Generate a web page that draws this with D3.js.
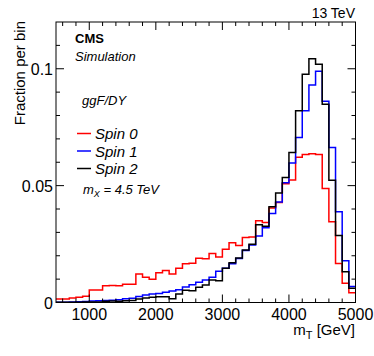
<!DOCTYPE html>
<html>
<head>
<meta charset="utf-8">
<script src="https://cdn.jsdelivr.net/npm/d3@7"></script>
<style>
  body { margin: 0; background: #fff; }
  svg { display: block; font-family: "Liberation Sans", Arial, sans-serif; }
</style>
</head>
<body>
<div class="container"></div>
<script>
// bin lower edges in GeV (bin width 100)
const binEdges = d3.range(500, 5000, 100);
const binWidth = 100;

const spin0 = [
  0.0015, 0.0015, 0.0019, 0.0022, 0.0027,
  0.0053, 0.0053, 0.0072, 0.0073, 0.0072,
  0.0078, 0.0078, 0.0122, 0.0108, 0.0099,
  0.0127, 0.0137, 0.0122, 0.0146, 0.0166,
  0.0168, 0.0189, 0.0187, 0.0210, 0.0195,
  0.0228, 0.0256, 0.0244, 0.0278, 0.0280,
  0.0350, 0.0342, 0.0404, 0.0428, 0.0508,
  0.0524, 0.0621, 0.0633, 0.0636, 0.0633,
  0.0488, 0.0345, 0.0167, 0.0082, 0.0042
];

const spin1 = [
  0.0001, 0.0001, 0.0002, 0.0003, 0.0004,
  0.0006, 0.0007, 0.0009, 0.0010, 0.0012,
  0.0016, 0.0018, 0.0026, 0.0032, 0.0036,
  0.0039, 0.0044, 0.0049, 0.0055, 0.0066,
  0.0076, 0.0087, 0.0096, 0.0108, 0.0134,
  0.0146, 0.0166, 0.0188, 0.0222, 0.0246,
  0.0284, 0.0320, 0.0381, 0.0430, 0.0512,
  0.0597, 0.0706, 0.0820, 0.0930, 0.0989,
  0.0861, 0.0663, 0.0388, 0.0179, 0.0068
];

const spin2 = [
  0.0001, 0.0001, 0.0001, 0.0001, 0.0002,
  0.0002, 0.0002, 0.0005, 0.0006, 0.0005,
  0.0008, 0.0009, 0.0015, 0.0019, 0.0022,
  0.0025, 0.0025, 0.0016, 0.0036, 0.0052,
  0.0050, 0.0065, 0.0075, 0.0096, 0.0093,
  0.0146, 0.0170, 0.0190, 0.0225, 0.0249,
  0.0333, 0.0326, 0.0410, 0.0468, 0.0535,
  0.0642, 0.0820, 0.0977, 0.1043, 0.1019,
  0.0848, 0.0523, 0.0287, 0.0132, 0.0061
];

const seriesNames = ["Spin 0", "Spin 1", "Spin 2"];
const seriesColors = ["#ff0000", "#0000ff", "#000000"];
const xTicks = [1000, 2000, 3000, 4000, 5000];
const yTicks = [0, 0.05, 0.1];

const margin = {top: 22, right: 18.5, bottom: 53.5, left: 56},
  width = 374 - margin.left - margin.right,
  height = 356 - margin.top - margin.bottom;

const svg = d3.select(".container")
  .append("svg")
  .attr("width", 374)
  .attr("height", 356);

const group = svg.append("g")
  .attr("transform", `translate(${margin.left},${margin.top})`);

const x_scale = d3.scaleLinear().domain([500, 5000]).range([0, width]);
const y_scale = d3.scaleLinear().domain([0, 0.12]).range([height, 0]);

// histograms (step outlines)
const line = d3.line()
  .curve(d3.curveStepAfter)
  .x(d => x_scale(d[0]))
  .y(d => y_scale(d[1]));

[spin0, spin1, spin2].forEach((vals, i) => {
  const pts = binEdges.map((e, j) => [e, vals[j]]);
  pts.push([binEdges[binEdges.length - 1] + binWidth, vals[vals.length - 1]]);
  group.append("path")
    .datum(pts)
    .attr("fill", "none")
    .attr("stroke", seriesColors[i])
    .attr("stroke-width", 1.5)
    .attr("d", line);
});

// frame
group.append("rect")
  .attr("width", width)
  .attr("height", height)
  .attr("fill", "none")
  .attr("stroke", "black")
  .attr("stroke-width", 1);

// ticks, inward on all four sides
const xMinor = d3.range(600, 5000, 200).filter(v => !xTicks.includes(v));
const xMajor = xTicks.filter(v => v < 5000);
const yMinor = d3.range(0.01, 0.12, 0.01).filter(v => Math.abs(v - 0.05) > 1e-6 && Math.abs(v - 0.1) > 1e-6);

const ticks = group.append("g").attr("stroke", "black").attr("stroke-width", 1);
xMinor.concat(xMajor).forEach(v => {
  const len = xMajor.includes(v) ? 8 : 4;
  const xp = x_scale(v);
  ticks.append("line").attr("x1", xp).attr("x2", xp).attr("y1", height).attr("y2", height - len);
  ticks.append("line").attr("x1", xp).attr("x2", xp).attr("y1", 0).attr("y2", len);
});
yMinor.concat(yTicks).forEach(v => {
  const len = yTicks.includes(v) ? 8 : 4;
  const yp = y_scale(v);
  ticks.append("line").attr("x1", 0).attr("x2", len).attr("y1", yp).attr("y2", yp);
  ticks.append("line").attr("x1", width).attr("x2", width - len).attr("y1", yp).attr("y2", yp);
});

// tick labels
group.append("g")
  .attr("font-size", 16)
  .attr("text-anchor", "middle")
  .selectAll("text")
  .data(xTicks)
  .join("text")
  .attr("x", d => x_scale(d))
  .attr("y", height + 17)
  .text(d => d);

group.append("g")
  .attr("font-size", 16)
  .attr("text-anchor", "end")
  .selectAll("text")
  .data(yTicks)
  .join("text")
  .attr("x", -3)
  .attr("y", d => y_scale(d) + 6)
  .text(d => d3.format("~g")(d));

// axis titles
svg.append("text")
  .attr("transform", "translate(25,21) rotate(-90)")
  .attr("text-anchor", "end")
  .attr("font-size", 15)
  .text("Fraction per bin");

const xt = svg.append("text")
  .attr("x", 355)
  .attr("y", 335)
  .attr("text-anchor", "end")
  .attr("font-size", 15);
xt.append("tspan").text("m");
xt.append("tspan").attr("font-size", 11).attr("dy", 4).text("T");
xt.append("tspan").attr("dy", -4).text(" [GeV]");

// top labels
svg.append("text")
  .attr("x", 355)
  .attr("y", 18)
  .attr("text-anchor", "end")
  .attr("font-size", 14)
  .text("13 TeV");

svg.append("text")
  .attr("x", 75).attr("y", 43)
  .attr("font-size", 13).attr("font-weight", "bold")
  .text("CMS");

svg.append("text")
  .attr("x", 75).attr("y", 61)
  .attr("font-size", 13).attr("font-style", "italic")
  .text("Simulation");

svg.append("text")
  .attr("x", 82).attr("y", 105)
  .attr("font-size", 13).attr("font-style", "italic")
  .text("ggF/DY");

// legend
const legend = svg.append("g")
  .selectAll("g")
  .data(seriesNames)
  .join("g")
  .attr("transform", (d, i) => `translate(77,${133.5 + i * 17.5})`);

legend.append("line")
  .attr("x1", 0).attr("x2", 14)
  .attr("stroke", (d, i) => seriesColors[i])
  .attr("stroke-width", 1.5);

legend.append("text")
  .attr("x", 18).attr("y", 5.5)
  .attr("font-size", 15).attr("font-style", "italic")
  .text(d => d);

const mx = svg.append("text")
  .attr("x", 83).attr("y", 194)
  .attr("font-size", 13).attr("font-style", "italic");
mx.append("tspan").text("m");
mx.append("tspan").attr("font-size", 9).attr("dy", 3).text("X");
mx.append("tspan").attr("dy", -3).text(" = 4.5 TeV");
</script>
</body>
</html>
